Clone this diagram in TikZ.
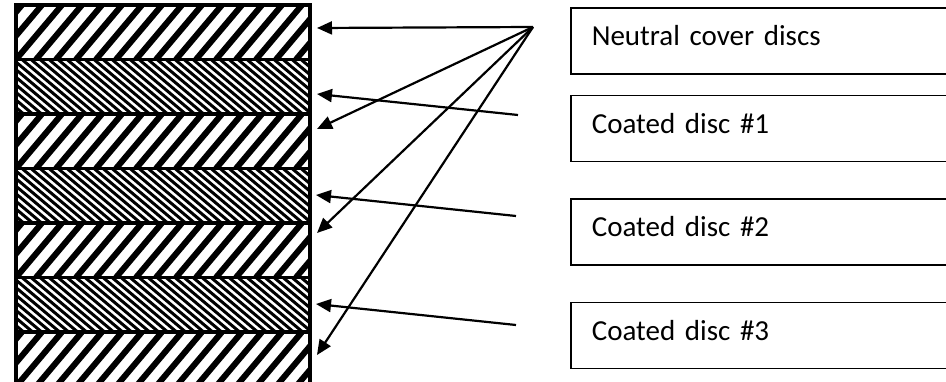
\documentclass[tikz,border=0pt]{standalone}
\usepackage{fontspec}
\setmainfont{Carlito}
\usetikzlibrary{positioning,arrows.meta}

\begin{document}
\begin{tikzpicture}[x=1pt, y=-1pt, node distance=0mm,
  neutral/.style={draw, line width=3.5pt, inner sep=0pt, outer sep=0pt,
    minimum width=294pt, minimum height=54.5pt,
    path picture={\foreach \k in {0,...,20}
      \draw[line width=6pt] ([xshift=\k*20pt-60pt]path picture bounding box.south west) -- ++(70,-83);}},
  coated/.style={draw, line width=3.5pt, inner sep=0pt, outer sep=0pt,
    minimum width=294pt, minimum height=54.5pt,
    path picture={\foreach \k in {0,...,42}
      \draw[line width=3pt] ([xshift=\k*9pt-75pt]path picture bounding box.north west) -- ++(70,59);}},
  tag/.style={draw, line width=1.6pt, anchor=north west, minimum width=400pt, minimum height=66pt,
    inner xsep=21pt, text width=358pt, align=left, text height=19pt, text depth=9pt,
    font=\fontsize{29}{34}\selectfont},
  arr/.style={-{Triangle[length=15pt, width=13pt]}, line width=2.2pt}]
\useasboundingbox (0,0) rectangle (946,382);
% the stack of discs
\node[neutral] (n1) at (163,32.25) {};
\node[coated, below=0mm of n1] (c1) {};
\node[neutral, below=0mm of c1] (n2) {};
\node[coated, below=0mm of n2] (c2) {};
\node[neutral, below=0mm of c2] (n3) {};
\node[coated, below=0mm of n3] (c3) {};
\node[neutral, below=0mm of c3] (n4) {};
% labels
\node[tag] (tn) at (570,7) {Neutral cover discs};
\node[tag, below=20pt of tn] (t1) {Coated disc \#1};
\node[tag, below=36pt of t1] (t2) {Coated disc \#2};
\node[tag, below=36pt of t2] (t3) {Coated disc \#3};
% arrow ends
\coordinate (src) at (533,27);
\coordinate (s1) at (518,115);
\coordinate (s2) at (516,216);
\coordinate (s3) at (516,325);
\coordinate (pn1) at (317,28);
\coordinate (pn2) at (317,129);
\coordinate (pn3) at (317,233);
\coordinate (pn4) at (317,355);
\coordinate (pc1) at (317,94);
\coordinate (pc2) at (316,195);
\coordinate (pc3) at (316,304);
\foreach \p in {pn1,pn2,pn3,pn4} \draw[arr] (src) -- (\p);
\draw[arr] (s1) -- (pc1);
\draw[arr] (s2) -- (pc2);
\draw[arr] (s3) -- (pc3);
\end{tikzpicture}
\end{document}
